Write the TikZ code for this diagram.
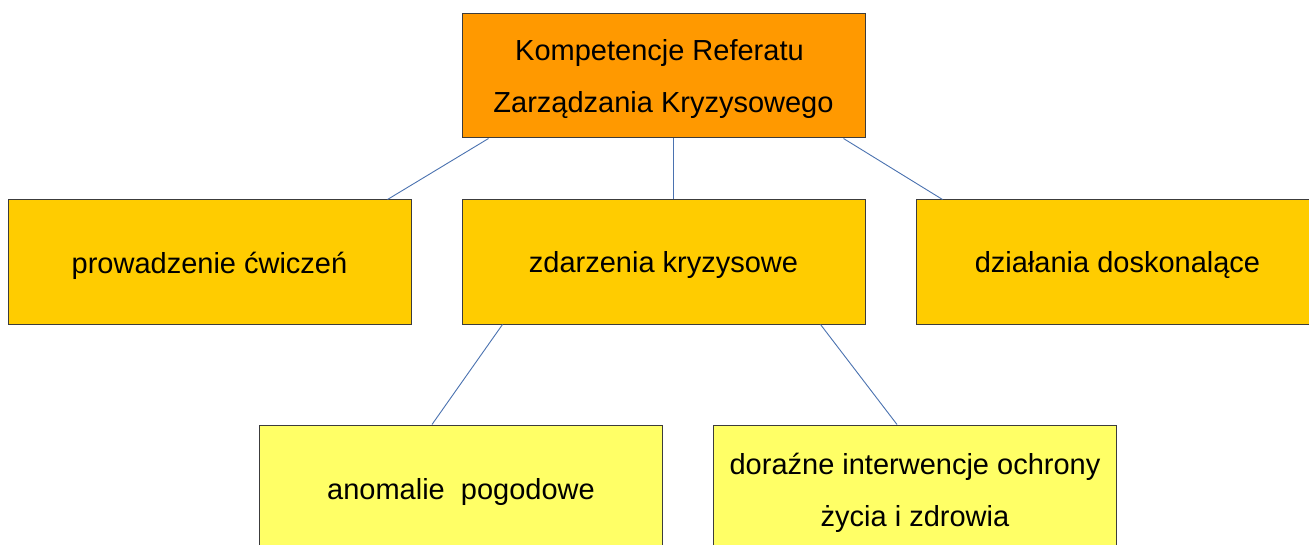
\documentclass[tikz,border=0pt]{standalone}
\usepackage{fontspec}
\setmainfont{Liberation Sans}
\usetikzlibrary{calc}
\definecolor{topfill}{HTML}{FF9900}
\definecolor{midfill}{HTML}{FFCC00}
\definecolor{lowfill}{HTML}{FFFF66}
\definecolor{boxline}{HTML}{3C3C3C}
\definecolor{linkline}{HTML}{4A72B0}
\newcommand{\lwr}[1]{\raisebox{-3.5pt}[\height][\depth]{#1}}
\tikzset{
  box/.style={draw=boxline, line width=1pt, rectangle, minimum width=403pt, minimum height=124pt,
    inner sep=0pt, align=center, font=\fontsize{29}{52}\selectfont, text=black},
  topbox/.style={box, fill=topfill},
  midbox/.style={box, fill=midfill},
  lowbox/.style={box, fill=lowfill, minimum height=128pt},
  link/.style={draw=linkline, line width=0.9pt}
}
\begin{document}
\begin{tikzpicture}[x=1pt,y=-1pt]
\useasboundingbox (0,0) rectangle (1309,545);
\clip (0,0) rectangle (1309,545);
\fill[white] (0,0) rectangle (1309,545);
\node[topbox] (top) at (663.5,76) {\lwr{Kompetencje Referatu\hspace*{0.278em}}\\\lwr{Zarządzania Kryzysowego}};
\node[midbox] (left) at (209.5,262) {\lwr{prowadzenie ćwiczeń}};
\node[midbox] (mid) at (663.5,262) {\lwr{zdarzenia kryzysowe}};
\node[midbox] (right) at (1117.5,262) {\lwr{działania doskonalące}};
\node[lowbox] (bl) at (461,489) {\lwr{anomalie\ \ pogodowe}};
\node[lowbox] (br) at (915,489) {\lwr{doraźne interwencje ochrony}\\\lwr{życia i zdrowia}};
\draw[link] ($(top.south west)+(27,0)$) -- ($(left.north east)+(-24,0)$);
\draw[link] ($(top.south)+(9.5,0)$) -- ($(mid.north)+(9.5,0)$);
\draw[link] ($(top.south east)+(-22,0)$) -- ($(right.north west)+(27,0)$);
\draw[link] ($(mid.south west)+(41,0)$) -- ($(bl.north west)+(173,0)$);
\draw[link] ($(mid.south east)+(-45,0)$) -- ($(br.north west)+(184,0)$);
\end{tikzpicture}
\end{document}
